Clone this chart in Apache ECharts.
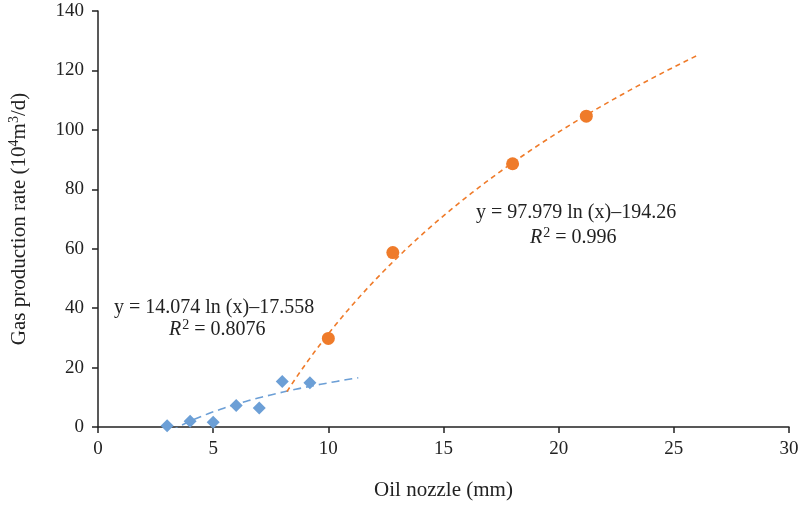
<!DOCTYPE html>
<html>
<head>
<meta charset="utf-8">
<script src="https://cdn.jsdelivr.net/npm/echarts@6/dist/echarts.min.js"></script>
<style>
  html, body { margin: 0; padding: 0; background: #fff; }
  #chart { width: 800px; height: 506px; }
</style>
</head>
<body>
<div id="chart"></div>
<script>
// Measured gas rates per oil nozzle size
const smallNozzleX = [3, 4, 5, 6, 7, 8, 9.2];
const smallNozzleY = [0.4, 1.9, 1.6, 7.2, 6.4, 15.3, 14.9];
const largeNozzleX = [10, 12.8, 18, 21.2];
const largeNozzleY = [29.8, 58.7, 88.6, 104.6];

// Logarithmic trendlines y = a ln(x) + b, with the x span each is drawn over
const smallFit = [14.074, -17.558];
const smallFitSpan = [3.15, 11.3];
const largeFit = [97.979, -194.26];
const largeFitSpan = [8.2, 26.1];

const xTicks = [0, 5, 10, 15, 20, 25, 30];
const yTicks = [0, 20, 40, 60, 80, 100, 120, 140];

const BLUE = '#6c9fd6';
const ORANGE = '#ef7b2a';
const INK = '#222';
const FONT = '"Liberation Serif", "DejaVu Serif", serif';

function fitCurve(coef, span) {
  const pts = [];
  const n = 60;
  for (let i = 0; i <= n; i++) {
    const x = span[0] + (span[1] - span[0]) * i / n;
    pts.push([x, coef[0] * Math.log(x) + coef[1]]);
  }
  return pts;
}
const zip = (xs, ys) => xs.map((x, i) => [x, ys[i]]);

// Shared rich-text styles for the R² lines
const r2Rich = {
  i: { fontFamily: FONT, fontSize: 20, fontStyle: 'italic', fill: INK },
  s: { fontFamily: FONT, fontSize: 14, fill: INK, verticalAlign: 'bottom', padding: [0, 0, 10, 1] },
  n: { fontFamily: FONT, fontSize: 20, fill: INK }
};

const chart = echarts.init(document.getElementById('chart'));
chart.setOption({
  animation: false,
  backgroundColor: '#fff',
  grid: { left: 98, right: 11, top: 11, bottom: 79, containLabel: false, outerBoundsMode: 'none' },
  xAxis: {
    type: 'value', min: xTicks[0], max: xTicks[xTicks.length - 1], interval: 5,
    name: 'Oil nozzle (mm)', nameLocation: 'middle', nameGap: 53,
    nameTextStyle: { fontFamily: FONT, fontSize: 21, color: INK },
    axisLine: { lineStyle: { color: INK, width: 1.5 } },
    axisTick: { show: true, inside: false, length: 6, lineStyle: { color: INK, width: 1.5 } },
    axisLabel: { fontFamily: FONT, fontSize: 19, color: INK, margin: 13 },
    splitLine: { show: false }
  },
  yAxis: {
    type: 'value', min: yTicks[0], max: yTicks[yTicks.length - 1], interval: 20,
    name: '{n|Gas production rate (10}{s|4}{n|m}{s|3}{n|/d)}',
    nameLocation: 'middle', nameGap: 66,
    nameTextStyle: {
      rich: {
        n: { fontFamily: FONT, fontSize: 21, color: INK },
        s: { fontFamily: FONT, fontSize: 14, color: INK, verticalAlign: 'bottom', padding: [0, 0, 11, 0] }
      }
    },
    axisLine: { show: true, lineStyle: { color: INK, width: 1.5 } },
    axisTick: { show: true, inside: false, length: 6, lineStyle: { color: INK, width: 1.5 } },
    axisLabel: { fontFamily: FONT, fontSize: 19, color: INK, margin: 14 },
    splitLine: { show: false }
  },
  series: [
    {
      type: 'line', data: fitCurve(smallFit, smallFitSpan), showSymbol: false, smooth: false,
      lineStyle: { color: BLUE, width: 1.6, type: [8, 5] }, z: 2
    },
    {
      type: 'line', data: fitCurve(largeFit, largeFitSpan), showSymbol: false, smooth: false,
      lineStyle: { color: ORANGE, width: 1.6, type: [5, 4] }, z: 2
    },
    {
      type: 'scatter', data: zip(smallNozzleX, smallNozzleY),
      symbol: 'diamond', symbolSize: [13, 13], itemStyle: { color: BLUE, opacity: 1 }, z: 3
    },
    {
      type: 'scatter', data: zip(largeNozzleX, largeNozzleY),
      symbol: 'circle', symbolSize: 13, itemStyle: { color: ORANGE, opacity: 1 }, z: 3
    }
  ],
  graphic: [
    {
      type: 'text', left: 114, top: 298,
      style: { text: 'y = 14.074 ln (x)–17.558', font: '20px ' + FONT, fill: INK }
    },
    {
      type: 'text', left: 169, top: 318,
      style: { text: '{i|R}{s|2}{n| = 0.8076}', rich: r2Rich }
    },
    {
      type: 'text', left: 476, top: 203,
      style: { text: 'y = 97.979 ln (x)–194.26', font: '20px ' + FONT, fill: INK }
    },
    {
      type: 'text', left: 530, top: 226,
      style: { text: '{i|R}{s|2}{n| = 0.996}', rich: r2Rich }
    }
  ]
});
</script>
</body>
</html>
